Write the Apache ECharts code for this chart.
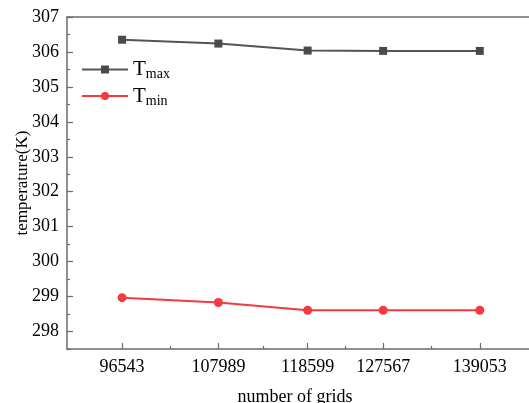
<!DOCTYPE html>
<html><head><meta charset="utf-8">
<script src="https://cdn.jsdelivr.net/npm/echarts@6/dist/echarts.min.js"></script>
<style>html,body{margin:0;padding:0;background:#fff}#c{width:529px;height:403px}</style>
</head><body><div id="c"></div>
<script>
const grids = [96543, 107989, 118599, 127567, 139053];
const tMax = [306.35, 306.24, 306.04, 306.03, 306.03];
const tMin = [298.97, 298.83, 298.61, 298.61, 298.61];
const yTicks = [298, 299, 300, 301, 302, 303, 304, 305, 306, 307];
const yMinorTicks = [297.5, 298.5, 299.5, 300.5, 301.5, 302.5, 303.5, 304.5, 305.5, 306.5];
const xMinorTicks = grids.slice(1).map((g, i) => (g + grids[i]) / 2);

const font = 'Liberation Serif';
const axisColor = '#6b6b6b';
const chart = echarts.init(document.getElementById('c'));
const gridBox = {left: 67, right: 0, top: 17, bottom: 54, outerBoundsMode: 'none', containLabel: false, show: false};
const xBase = {type: 'value', min: 90000, max: 144900, splitLine: {show: false}};
const yBase = {type: 'value', min: 297.5, max: 307, splitLine: {show: false}};
const hiddenTicks = {axisLine: {show: false}, axisTick: {show: false}, axisLabel: {show: false}};
chart.setOption({
  animation: false,
  grid: [Object.assign({}, gridBox), Object.assign({}, gridBox), Object.assign({}, gridBox)],
  legend: {
    left: 76, top: 54, orient: 'vertical', itemWidth: 46, itemHeight: 10, itemGap: 4,
    textStyle: {fontFamily: font, color: '#000',
      rich: {t: {fontFamily: font, fontSize: 21, color: '#000'}, s: {fontFamily: font, fontSize: 14, color: '#000', padding: [10, 0, 0, 0]}}},
    formatter: n => n === 'Tmax' ? '{t|T}{s|max}' : '{t|T}{s|min}',
    data: ['Tmax', 'Tmin']
  },
  xAxis: [
    Object.assign({}, xBase, {
      gridIndex: 0, position: 'bottom',
      name: 'number of grids', nameLocation: 'middle', nameGap: 39,
      nameTextStyle: {fontFamily: font, fontSize: 18, color: '#000', padding: [0, 6, 0, 0]},
      axisLine: {show: true, lineStyle: {color: axisColor, width: 1.5}},
      axisTick: {show: true, inside: true, length: 6, customValues: grids, lineStyle: {color: axisColor, width: 1.2}},
      axisLabel: {customValues: grids, formatter: v => String(v), fontFamily: font, fontSize: 18, color: '#000', margin: 9}
    }),
    Object.assign({}, xBase, {
      gridIndex: 1, position: 'bottom',
      axisLine: {show: false},
      axisTick: {show: true, inside: true, length: 3, customValues: xMinorTicks, lineStyle: {color: axisColor, width: 1.2}},
      axisLabel: {show: false}
    }),
    Object.assign({}, xBase, {
      gridIndex: 2, position: 'top',
      axisLine: {show: true, lineStyle: {color: axisColor, width: 1.5}},
      axisTick: {show: false},
      axisLabel: {show: false}
    })
  ],
  yAxis: [
    Object.assign({}, yBase, {
      gridIndex: 0, position: 'left',
      name: 'temperature(K)', nameLocation: 'middle', nameGap: 36, nameMoveOverlap: false,
      nameTextStyle: {fontFamily: font, fontSize: 17, color: '#000'},
      axisLine: {show: true, lineStyle: {color: axisColor, width: 1.5}},
      axisTick: {show: true, inside: true, length: 6, customValues: yTicks, lineStyle: {color: axisColor, width: 1.2}},
      axisLabel: {customValues: yTicks, fontFamily: font, fontSize: 18, color: '#000', margin: 8}
    }),
    Object.assign({}, yBase, {
      gridIndex: 1, position: 'left',
      axisLine: {show: false},
      axisTick: {show: true, inside: true, length: 3, customValues: yMinorTicks, lineStyle: {color: axisColor, width: 1.2}},
      axisLabel: {show: false}
    }),
    Object.assign({}, yBase, hiddenTicks, {gridIndex: 2, position: 'left'})
  ],
  series: [
    {name: 'Tmax', type: 'line', xAxisIndex: 0, yAxisIndex: 0, data: grids.map((g, i) => [g, tMax[i]]),
      symbol: 'rect', symbolSize: 8, itemStyle: {color: '#4a4a4a'}, lineStyle: {color: '#555', width: 2}},
    {name: 'Tmin', type: 'line', xAxisIndex: 0, yAxisIndex: 0, data: grids.map((g, i) => [g, tMin[i]]),
      symbol: 'circle', symbolSize: 9, itemStyle: {color: '#f43a3f'}, lineStyle: {color: '#f43a3f', width: 2}}
  ]
});
</script></body></html>
